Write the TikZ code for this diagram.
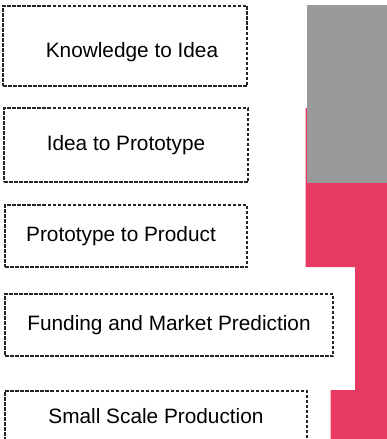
\documentclass[tikz,border=0pt]{standalone}
\usepackage{fontspec}
\setmainfont{Liberation Sans}
\definecolor{rosered}{RGB}{232,57,98}
\definecolor{midgray}{RGB}{153,153,153}
\usetikzlibrary{positioning}

\begin{document}
\begin{tikzpicture}[
    x=1pt, y=-1pt,
    stage/.style={draw=black!85, line width=1.2pt,
                  dash pattern=on 3.5pt off 1.5pt,
                  inner sep=0pt, minimum width=#1,
                  font=\fontsize{20.8}{24}\selectfont},
  ]
    \useasboundingbox (0,0) rectangle (387,439);
    \clip (0,0) rectangle (387,439);

    % right hand bar
    \fill[rosered] (305.5,108) -- (387,108) -- (387,439) -- (330.5,439)
      -- (330.5,390) -- (355,390) -- (355,267) -- (305.5,267) -- cycle;
    \fill[midgray] (307,4.5) rectangle (387,182.5);

    % stages
    \node[stage=244pt, minimum height=80pt] (know) at (125,46)
      {\hspace*{14pt}\raisebox{-6pt}[\height][\depth]{Knowledge to Idea}};
    \node[stage=244pt, minimum height=74pt] (idea) at (126,145)
      {Idea to Prototype};
    \node[stage=242pt, minimum height=62pt] (proto) at (126,236)
      {Prototype to Product\hspace*{10pt}};
    \node[stage=328pt, minimum height=62pt] (fund) at (169,325)
      {Funding and Market Prediction};
    \node[stage=302pt, minimum height=50pt] (small) at (156,416)
      {Small Scale Production};
\end{tikzpicture}
\end{document}
